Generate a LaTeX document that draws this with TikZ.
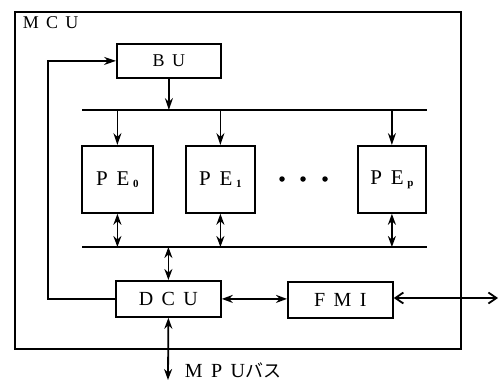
\documentclass[tikz,border=0pt]{standalone}
\usepackage{fontspec}
\setmainfont{Liberation Serif}
\newfontfamily\jpfont{Noto Sans CJK JP}
\usetikzlibrary{arrows.meta}
\newcommand{\gp}{\hspace{0.42em}}
\newcommand{\subx}[1]{\raisebox{-0.1em}{\fontsize{11}{11}\selectfont\bfseries #1}}
\begin{document}
\begin{tikzpicture}[x=1pt,y=-1pt,line width=1.8pt,
  box/.style={draw,line width=1.8pt,inner sep=0pt,anchor=north west},
  sa/.style={-{Stealth[length=12pt,width=8pt]}},
  da/.style={{Stealth[length=11pt,width=8pt]}-{Stealth[length=11pt,width=8pt]}},
  oa/.style={{Straight Barb[length=8pt,width=11pt]}-{Straight Barb[length=8pt,width=11pt]}},
  dot/.style={circle,fill,inner sep=0pt,minimum size=5.5pt}]
\useasboundingbox (0,0) rectangle (504,381);
% outer MCU frame
\node[box,minimum width=446pt,minimum height=337pt] (mcu) at (14,11) {};
\node[anchor=north west,inner sep=0pt,font=\fontsize{18}{18}\selectfont] (mcul) at (22,16) {M\hspace{0.4em}C\hspace{0.4em}U};
% BU
\node[box,minimum width=104pt,minimum height=34pt,font=\fontsize{18}{18}\selectfont] (bu) at (116,43) {B\gp U};
% buses
\coordinate (tb1) at (82,110);
\coordinate (tb2) at (427,110);
\coordinate (bb1) at (82,247);
\coordinate (bb2) at (427,247);
\draw (tb1) -- (tb2);
\draw (bb1) -- (bb2);
% PEs
\node[box,minimum width=71pt,minimum height=67pt,font=\fontsize{21}{21}\selectfont] (pe0) at (81,145) {P\gp E\,\subx{0}};
\node[box,minimum width=69pt,minimum height=67pt,font=\fontsize{21}{21}\selectfont] (pe1) at (185,145) {P\gp E\,\subx{1}};
\node[box,minimum width=68pt,minimum height=67pt,font=\fontsize{21}{21}\selectfont] (pep) at (357,145) {P\gp E\,\subx{p}};
\node[dot] (d1) at (282,179) {};
\node[dot] (d2) at (303,179) {};
\node[dot] (d3) at (325,179) {};
% DCU, FMI
\node[box,minimum width=105pt,minimum height=36pt,font=\fontsize{20}{20}\selectfont] (dcu) at (115,280) {D\gp C\gp U};
\node[box,minimum width=105pt,minimum height=36pt,font=\fontsize{20}{20}\selectfont] (fmi) at (287,281) {F\gp M\gp I};
% arrows
\draw[sa] (bu.south) -- (bu.south |- tb1);
\draw[sa] (pe0.north |- tb1) -- (pe0.north);
\draw[sa] (pe1.north |- tb1) -- (pe1.north);
\draw[sa] (pep.north |- tb1) -- (pep.north);
\draw[da] (pe0.south) -- (pe0.south |- bb1);
\draw[da] (pe1.south) -- (pe1.south |- bb1);
\draw[da] (pep.south) -- (pep.south |- bb1);
\draw[da] (dcu.north |- bb1) -- (dcu.north);
\draw[sa] (dcu.west) -- ++(-67,0) |- (bu.west);
\draw[da] (dcu.east) -- (fmi.west |- dcu.east);
\coordinate (ext) at (498,298);
\draw[oa] (fmi.east |- ext) -- (ext);
\coordinate (mpu) at (168,380);
\draw[da] (dcu.south) -- (mpu);
\node[anchor=west,inner sep=0pt,font=\fontsize{20}{20}\selectfont] (mpul) at (184,370) {M\gp P\gp U{\jpfont\fontsize{18}{18}\selectfont バス}};
\end{tikzpicture}
\end{document}
